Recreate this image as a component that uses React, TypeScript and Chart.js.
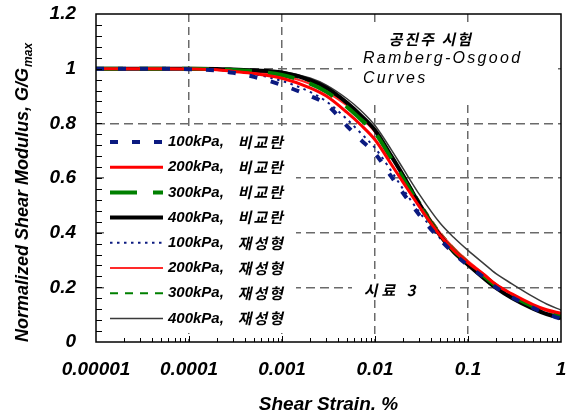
import { useEffect, useRef } from 'react';
import { Chart, registerables } from 'chart.js';

Chart.register(...registerables);

// ---------- data ----------
const strains = [1e-5, 2e-5, 5e-5, 1e-4, 2e-4, 3e-4, 5e-4, 1e-3, 2e-3, 3e-3, 5e-3, 7e-3, 1e-2, 1.5e-2, 2e-2, 3e-2, 5e-2, 7e-2, 0.1, 0.15, 0.2, 0.3, 0.5, 0.7, 1.0];

const und100 = [1, 1, 1, 0.998, 0.993, 0.985, 0.97, 0.94, 0.9, 0.87, 0.79, 0.74, 0.69, 0.605, 0.545, 0.465, 0.375, 0.325, 0.28, 0.235, 0.2, 0.163, 0.125, 0.102, 0.085];
const und200 = [1, 1, 1, 0.999, 0.996, 0.99, 0.982, 0.965, 0.93, 0.9, 0.84, 0.795, 0.74, 0.65, 0.585, 0.495, 0.39, 0.335, 0.29, 0.245, 0.21, 0.175, 0.137, 0.118, 0.105];
const und300 = [1, 1, 1, 1, 0.998, 0.995, 0.99, 0.977, 0.945, 0.915, 0.86, 0.815, 0.765, 0.67, 0.6, 0.5, 0.39, 0.335, 0.288, 0.24, 0.205, 0.168, 0.13, 0.11, 0.095];
const und400 = [1, 1, 1, 1, 0.999, 0.997, 0.994, 0.986, 0.958, 0.93, 0.875, 0.83, 0.775, 0.68, 0.61, 0.505, 0.39, 0.33, 0.283, 0.232, 0.198, 0.16, 0.122, 0.102, 0.087];
const rem100 = [1, 1, 1, 0.999, 0.995, 0.99, 0.98, 0.955, 0.915, 0.88, 0.815, 0.765, 0.71, 0.625, 0.56, 0.475, 0.38, 0.328, 0.283, 0.237, 0.203, 0.166, 0.127, 0.105, 0.09];
const rem200 = [1, 1, 1, 1, 0.998, 0.994, 0.988, 0.974, 0.945, 0.915, 0.865, 0.822, 0.768, 0.678, 0.608, 0.51, 0.4, 0.345, 0.296, 0.248, 0.212, 0.174, 0.134, 0.114, 0.1];
const rem300 = [1, 1, 1, 1, 0.999, 0.996, 0.991, 0.98, 0.952, 0.922, 0.87, 0.828, 0.773, 0.683, 0.614, 0.515, 0.402, 0.345, 0.295, 0.243, 0.207, 0.169, 0.129, 0.109, 0.093];
const rem400 = [1, 1, 1, 1, 0.999, 0.998, 0.995, 0.99, 0.966, 0.94, 0.89, 0.848, 0.792, 0.703, 0.635, 0.54, 0.435, 0.383, 0.335, 0.285, 0.25, 0.212, 0.166, 0.139, 0.117];

const pressures = ['100kPa', '200kPa', '300kPa', '400kPa'];
const conditions = ['비교란', '재성형'];

const xTickValues = [1e-5, 1e-4, 1e-3, 1e-2, 1e-1, 1];
const xTickLabels = ['0.00001', '0.0001', '0.001', '0.01', '0.1', '1'];
const yTickLabels = ['0', '0.2', '0.4', '0.6', '0.8', '1', '1.2'];

const xTitle = 'Shear Strain. %';
const yTitleMain = 'Normalized Shear Modulus, G/G';
const yTitleSub = 'max';
const noteLines = ['공진주 시험', 'Ramberg-Osgood', 'Curves'];
const sampleNote = '시료 3';

// ---------- styles ----------
const LAT = '"Liberation Sans", Arial, sans-serif';
const KOR = '"Noto Sans CJK KR", sans-serif';
const NAVY = '#0b1a80';
const RED = '#ff0000';
const GREEN = '#008000';

const seriesStyles = [
  { color: NAVY, width: 4, dash: [8, 14] },
  { color: RED, width: 3, dash: [] },
  { color: GREEN, width: 4, dash: [27, 16] },
  { color: '#000000', width: 4, dash: [] },
  { color: NAVY, width: 2, dash: [2.5, 4.5] },
  { color: '#ff2a2a', width: 2, dash: [] },
  { color: GREEN, width: 2, dash: [8, 7] },
  { color: '#3a3a3a', width: 1.5, dash: [] },
];
const seriesValues = [und100, und200, und300, und400, rem100, rem200, rem300, rem400];

function slantText(ctx: any, text: string, x: number, y: number, spacing: string) {
  ctx.save();
  ctx.translate(x, y);
  ctx.transform(1, 0, -0.22, 1, 0, 0);
  ctx.letterSpacing = spacing;
  ctx.fillText(text, 0, 0);
  ctx.restore();
}

const decorPlugin = {
  id: 'decor',
  beforeDatasetsDraw(chart: any) {
    const ctx = chart.ctx;
    ctx.save();
    ctx.fillStyle = '#ffffff';
    ctx.fillRect(104, 127, 192, 206); // legend box
    ctx.fillRect(352, 26, 204, 78); // note box
    ctx.fillRect(352, 279, 88, 19); // sample box
    ctx.restore();
  },
  afterDatasetsDraw(chart: any) {
    const ctx = chart.ctx;
    const { left, right, top, bottom } = chart.chartArea;
    const xs = chart.scales.x;
    const ys = chart.scales.y;
    ctx.save();
    // minor ticks
    ctx.strokeStyle = '#000';
    ctx.lineWidth = 1;
    ctx.beginPath();
    for (let k = 1; k < 30; k++) {
      const py = Math.round(ys.getPixelForValue(k * 0.04)) + 0.5;
      ctx.moveTo(left, py);
      ctx.lineTo(left + 6, py);
    }
    for (let d = 1e-5; d < 0.5; d *= 10) {
      for (let m = 1; m <= 9; m++) {
        const v = d * m;
        if (v <= 1e-5 * 1.001) continue;
        const px = Math.round(xs.getPixelForValue(v)) + 0.5;
        ctx.moveTo(px, bottom);
        ctx.lineTo(px, bottom - (m === 1 ? 6 : 4));
      }
    }
    ctx.stroke();
    // border
    ctx.lineWidth = 1.5;
    ctx.strokeRect(left, top, right - left, bottom - top);

    // legend
    const ds = chart.data.datasets;
    for (let i = 0; i < ds.length; i++) {
      const cy = 142 + i * 25.2;
      ctx.save();
      ctx.strokeStyle = ds[i].borderColor;
      ctx.lineWidth = ds[i].borderWidth;
      ctx.setLineDash(ds[i].borderDash || []);
      ctx.beginPath();
      ctx.moveTo(110, cy);
      ctx.lineTo(163, cy);
      ctx.stroke();
      ctx.restore();
      const parts = String(ds[i].label).split(', ');
      ctx.fillStyle = '#000';
      ctx.textBaseline = 'middle';
      ctx.textAlign = 'left';
      ctx.font = `italic bold 15px ${LAT}`;
      ctx.fillText(parts[0] + ',', 168, cy);
      ctx.font = `bold 15px ${KOR}`;
      slantText(ctx, parts[1], 239, cy, '2px');
    }

    // notes
    ctx.fillStyle = '#000';
    ctx.textBaseline = 'middle';
    ctx.textAlign = 'left';
    ctx.font = `bold 15px ${KOR}`;
    slantText(ctx, noteLines[0], 390, 39, '2px');
    ctx.font = `italic 16px ${LAT}`;
    slantText(ctx, '', 0, 0, '0px');
    (ctx as any).letterSpacing = '2.3px';
    ctx.fillText(noteLines[1], 363, 59);
    ctx.fillText(noteLines[2], 363, 79);
    (ctx as any).letterSpacing = '0px';
    ctx.font = `bold 15px ${KOR}`;
    slantText(ctx, sampleNote, 365, 290, '4px');

    // y title
    ctx.translate(28, 342);
    ctx.rotate(-Math.PI / 2);
    ctx.textBaseline = 'alphabetic';
    ctx.font = `italic bold 18px ${LAT}`;
    ctx.fillText(yTitleMain, 0, 0);
    const w = ctx.measureText(yTitleMain).width;
    ctx.font = `italic bold 12px ${LAT}`;
    ctx.fillText(yTitleSub, w + 1, 4);
    ctx.restore();
  },
};

export default function App() {
  const ref = useRef<HTMLCanvasElement | null>(null);
  useEffect(() => {
    if (!ref.current) return;
    const datasets = seriesValues.map((vals, i) => ({
      label: `${pressures[i % 4]}, ${conditions[Math.floor(i / 4)]}`,
      data: strains.map((s, j) => ({ x: s, y: vals[j] })),
      borderColor: seriesStyles[i].color,
      borderWidth: seriesStyles[i].width,
      borderDash: seriesStyles[i].dash,
      pointRadius: 0,
      fill: false,
      tension: 0.4,
      cubicInterpolationMode: 'monotone' as const,
    }));
    const chart = new Chart(ref.current, {
      type: 'line',
      data: { datasets },
      plugins: [decorPlugin],
      options: {
        responsive: false,
        animation: false,
        devicePixelRatio: 1,
        parsing: false,
        layout: { padding: { left: 0, right: 12, top: 14, bottom: 0 } },
        plugins: { legend: { display: false }, tooltip: { enabled: false } },
        scales: {
          x: {
            type: 'logarithmic',
            min: 1e-5,
            max: 1,
            afterBuildTicks: (s: any) => {
              s.ticks = xTickValues.map((v) => ({ value: v }));
            },
            afterFit: (s: any) => {
              s.height = 78;
              s.paddingLeft = 0;
              s.paddingRight = 0;
            },
            grid: {
              color: (c: any) =>
                c.tick && (c.tick.value <= 1.001e-5 || c.tick.value >= 0.999) ? 'rgba(0,0,0,0)' : '#6a6a6a',
              lineWidth: 1.5,
              drawTicks: false,
            },
            border: { display: false, dash: [8, 5] },
            ticks: {
              autoSkip: false,
              maxRotation: 0,
              padding: 16,
              color: '#000',
              font: { family: LAT, size: 19, weight: 'bold', style: 'italic' },
              callback: (_v: any, i: number) => xTickLabels[i],
            },
            title: {
              display: true,
              text: xTitle,
              color: '#000',
              font: { family: LAT, size: 19, weight: 'bold', style: 'italic' },
              padding: { top: 0, bottom: 4 },
            },
          },
          y: {
            min: 0,
            max: 1.2,
            afterFit: (s: any) => {
              s.width = 96;
              s.paddingTop = 0;
              s.paddingBottom = 0;
            },
            grid: {
              color: (c: any) => (c.index === 0 || c.index === 6 ? 'rgba(0,0,0,0)' : '#6a6a6a'),
              lineWidth: 1.5,
              drawTicks: false,
            },
            border: { display: false, dash: [9, 5] },
            ticks: {
              stepSize: 0.2,
              padding: 20,
              color: '#000',
              font: { family: LAT, size: 19, weight: 'bold', style: 'italic' },
              callback: (_v: any, i: number) => yTickLabels[i],
            },
          },
        },
      },
    });
    return () => chart.destroy();
  }, []);
  return (
    <div style={{ position: 'absolute', left: 0, top: 0, width: 573, height: 420 }}>
      <canvas ref={ref} width={573} height={420} />
    </div>
  );
}
